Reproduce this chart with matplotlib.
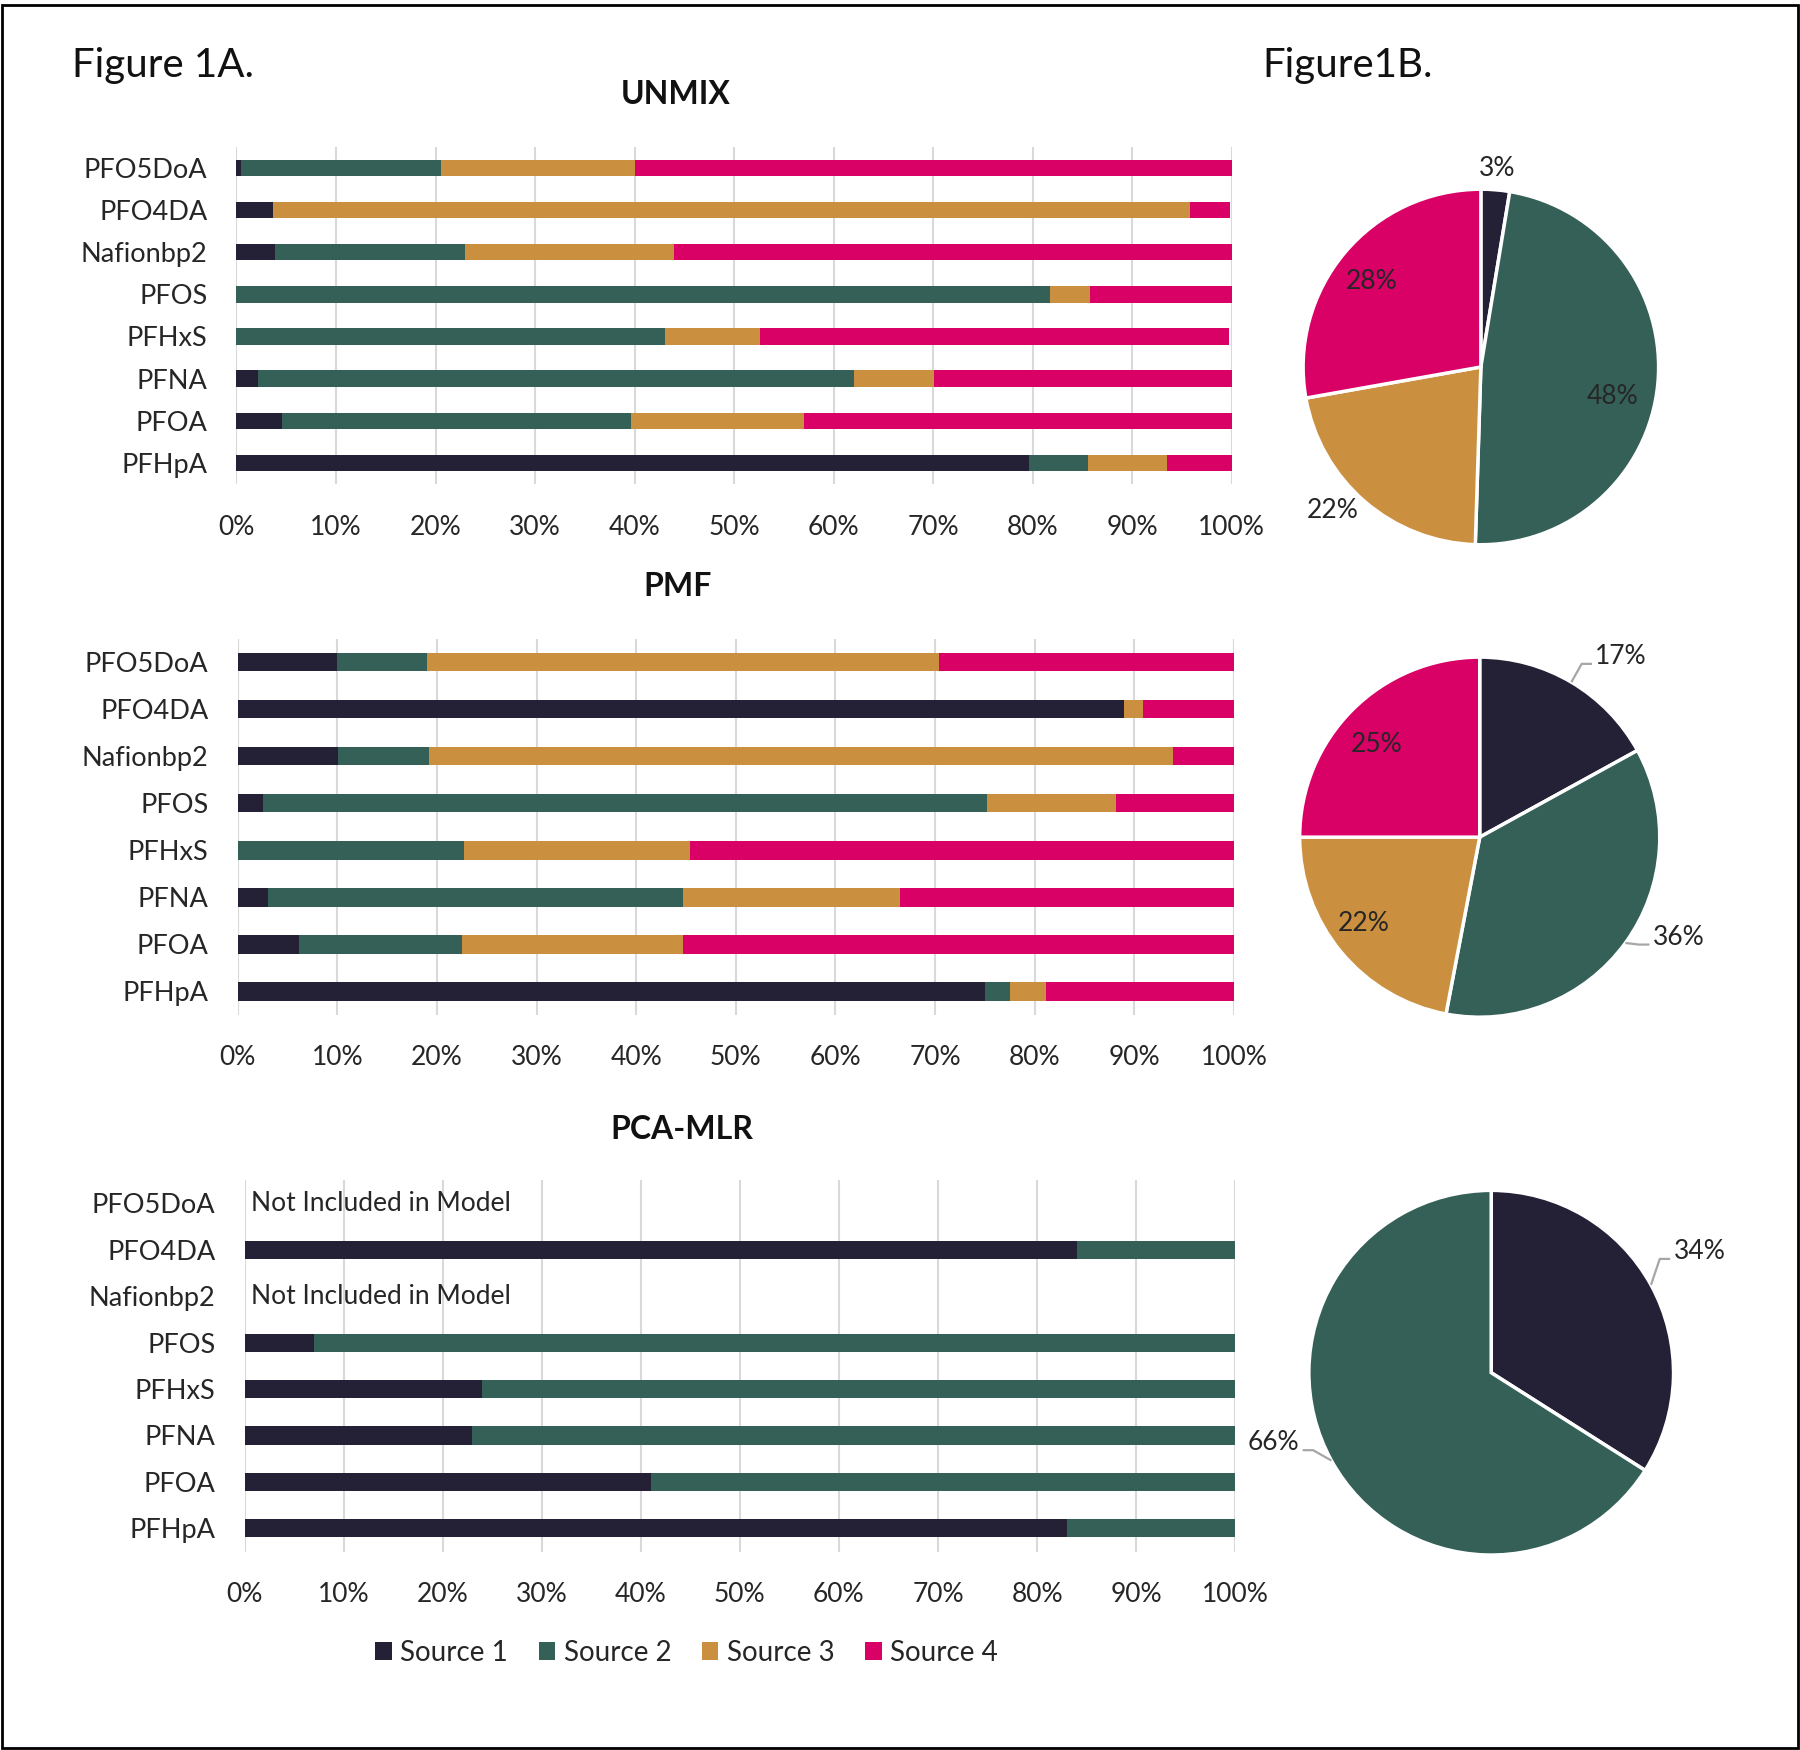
import matplotlib
matplotlib.use("Agg")
import matplotlib.pyplot as plt
from matplotlib.patches import Patch, Rectangle
import numpy as np

plt.rcParams['font.family'] = ['Lato', 'DejaVu Sans']

compounds = ["PFO5DoA", "PFO4DA", "Nafionbp2", "PFOS", "PFHxS", "PFNA", "PFOA", "PFHpA"]
sources = ["Source 1", "Source 2", "Source 3", "Source 4"]
colors = ["#242036", "#356058", "#CB8F40", "#D90066"]

# UNMIX contributions (%), per compound: Source 1..4
unmix_s1 = [0.5, 3.7, 3.9, 0.0, 0.0, 2.2, 4.6, 79.6]
unmix_s2 = [20.0, 0.0, 19.1, 81.7, 43.1, 59.8, 35.0, 6.0]
unmix_s3 = [19.5, 92.1, 21.0, 4.1, 9.5, 8.1, 17.4, 7.9]
unmix_s4 = [60.0, 4.0, 56.0, 14.2, 47.1, 29.9, 43.0, 6.5]

# PMF contributions (%)
pmf_s1 = [10.0, 89.0, 10.1, 2.5, 0.0, 3.0, 6.2, 75.0]
pmf_s2 = [9.0, 0.0, 9.1, 72.7, 22.7, 41.7, 16.3, 2.5]
pmf_s3 = [51.4, 1.9, 74.7, 13.0, 22.7, 21.8, 22.2, 3.6]
pmf_s4 = [29.6, 9.1, 6.1, 11.8, 54.6, 33.5, 55.3, 18.9]

# PCA-MLR contributions (%); None = not included in model
pca_s1 = [None, 84.0, None, 7.0, 24.0, 23.0, 41.0, 83.0]
pca_s2 = [None, 16.0, None, 93.0, 76.0, 77.0, 59.0, 17.0]

# Pie charts (overall source contribution, %)
unmix_pie = [2.6, 47.9, 21.7, 27.8]
unmix_pie_labels = ["3%", "48%", "22%", "28%"]
pmf_pie = [17, 36, 22, 25]
pmf_pie_labels = ["17%", "36%", "22%", "25%"]
pca_pie = [34, 66]
pca_pie_labels = ["34%", "66%"]

xticks = [0, 10, 20, 30, 40, 50, 60, 70, 80, 90, 100]
xtick_labels = [f"{t}%" for t in xticks]

W, H = 1568.0, 1526.0
def box(x0, y0, x1, y1):
    return [x0 / W, 1 - y1 / H, (x1 - x0) / W, (y1 - y0) / H]

fig = plt.figure(figsize=(18, 17.5), dpi=100)
fig.patch.set_facecolor("white")
fig.patches.append(Rectangle((2 / W, 2 / H), 1 - 4 / W, 1 - 6 / H, transform=fig.transFigure,
                             fill=False, edgecolor="black", linewidth=2))

txtc = "#262626"

def stacked(ax, series, title, title_xy, note_rows=()):
    y = np.arange(len(compounds))
    left = np.zeros(len(compounds))
    for vals, c in zip(series, colors):
        v = np.array([0.0 if a is None else a for a in vals])
        ax.barh(y, v, left=left, height=0.39, color=c, linewidth=0, zorder=3)
        left += v
    ax.set_xlim(0, 100)
    ax.set_ylim(len(compounds) - 0.5, -0.5)
    ax.set_yticks(y)
    ax.set_yticklabels(compounds, fontsize=19.5, color=txtc)
    ax.set_xticks(xticks)
    ax.set_xticklabels(xtick_labels, fontsize=19, color=txtc)
    ax.tick_params(length=0)
    ax.tick_params(axis='y', pad=21)
    ax.tick_params(axis='x', pad=22)
    for s in ax.spines.values():
        s.set_visible(False)
    ax.grid(axis='x', color="#d9d9d9", linewidth=1.5, zorder=0)
    ax.set_axisbelow(True)
    fig.text(title_xy[0] / W, 1 - title_xy[1] / H, title, fontsize=23, fontweight='bold',
             color="#111111", ha='center', va='center')
    for r in note_rows:
        ax.text(0.7, r, "Not Included in Model", fontsize=19, color=txtc, va='center', ha='left')

ax1 = fig.add_axes(box(206, 128, 1073, 422))
stacked(ax1, [unmix_s1, unmix_s2, unmix_s3, unmix_s4], "UNMIX", (589, 82))
ax2 = fig.add_axes(box(207, 557, 1075, 885))
stacked(ax2, [pmf_s1, pmf_s2, pmf_s3, pmf_s4], "PMF", (590, 511))
ax3 = fig.add_axes(box(213, 1029, 1076, 1353))
note_rows = [i for i, v in enumerate(pca_s1) if v is None]
stacked(ax3, [pca_s1, pca_s2], "PCA-MLR", (594, 985), note_rows)

def pie(ax, vals, labels, cols, placements):
    wedges, _ = ax.pie(vals, colors=cols, startangle=90, counterclock=False, radius=1.0,
                       wedgeprops=dict(edgecolor="white", linewidth=2.5))
    ax.set_xlim(-1.0, 1.0)
    ax.set_ylim(-1.0, 1.0)
    ax.set_aspect('equal')
    ax.axis('off')
    for w in wedges:
        w.set_clip_on(False)
    for w, lab, (r, dang, leader) in zip(wedges, labels, placements):
        mid_deg = (w.theta1 + w.theta2) / 2
        a = np.deg2rad(mid_deg + dang)
        tx, ty = r * np.cos(a), r * np.sin(a)
        if leader:
            ex, ey = np.cos(np.deg2rad(mid_deg)), np.sin(np.deg2rad(mid_deg))
            right = tx > 0
            sgn = 1 if right else -1
            sy = ty - 0.04
            xs = [ex, tx - sgn * 0.075, tx - sgn * 0.018]
            ys = [ey, sy, sy]
            ax.plot(xs, ys, color="#a6a6a6", lw=1.6, clip_on=False, solid_capstyle='butt')
            ax.text(tx, ty, lab, fontsize=19, color=txtc, ha='left' if right else 'right',
                    va='center', clip_on=False)
        else:
            ax.text(tx, ty, lab, fontsize=19, color=txtc, ha='center', va='center', clip_on=False)

axp1 = fig.add_axes(box(1135, 165, 1445, 475))
pie(axp1, unmix_pie, unmix_pie_labels, colors,
    [(1.12, 0, False), (0.76, -7, False), (1.16, -5, False), (0.78, 2, False)])
axp2 = fig.add_axes(box(1132, 573, 1446, 887))
pie(axp2, pmf_pie, pmf_pie_labels, colors,
    [(1.19, -2, True), (1.11, 5.9, True), (0.80, -3, False), (0.77, 3, False)])
axp3 = fig.add_axes(box(1140, 1038, 1458, 1356))
pie(axp3, pca_pie, pca_pie_labels, colors[:2],
    [(1.20, 4.8, True), (1.12, -8.7, True)])

fig.text(63 / W, 1 - 57 / H, "Figure 1A.", fontsize=29, color="#111111", va='center', ha='left')
fig.text(1100 / W, 1 - 57 / H, "Figure1B.", fontsize=29, color="#111111", va='center', ha='left')

handles = [Patch(facecolor=c, edgecolor='none', label=s) for c, s in zip(colors, sources)]
fig.legend(handles=handles, loc='center', bbox_to_anchor=(598 / W, 1 - 1441 / H), ncol=4,
           frameon=False, fontsize=20, handlelength=0.6, handleheight=0.6, handletextpad=0.3,
           columnspacing=1.1, labelcolor=txtc)

fig.savefig("out.png", dpi=100, facecolor="white")
